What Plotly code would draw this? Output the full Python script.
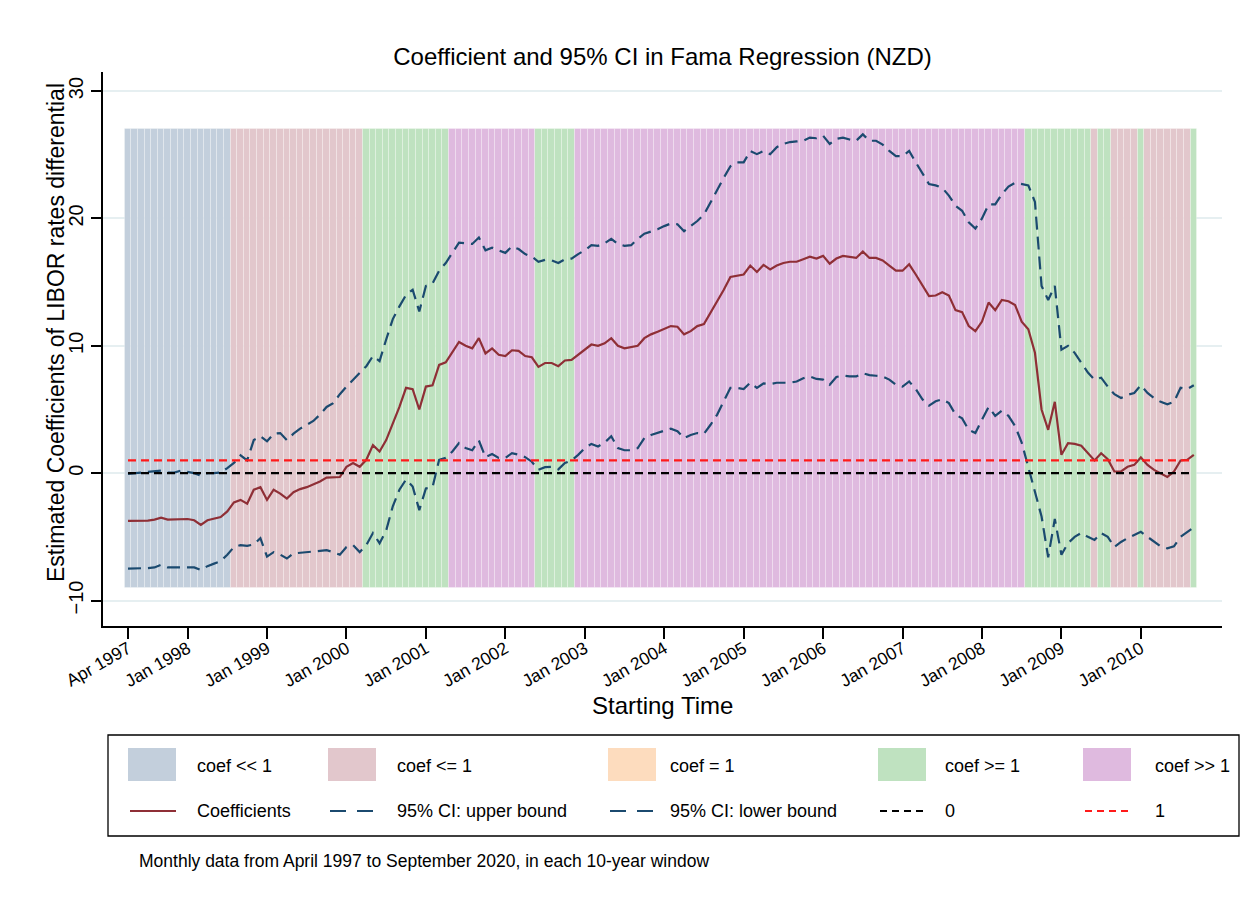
import plotly.graph_objects as go

# ---------------- data ----------------
TICK_LABELS = ["Apr 1997", "Jan 1998", "Jan 1999", "Jan 2000", "Jan 2001", "Jan 2002",
               "Jan 2003", "Jan 2004", "Jan 2005", "Jan 2006", "Jan 2007", "Jan 2008",
               "Jan 2009", "Jan 2010"]

COEF = [-3.75, -3.75, -3.7, -3.72, -3.65, -3.5, -3.65, -3.62, -3.6, -3.6, -3.7, -4.07, -3.7, -3.55, -3.45, -3.0,
        -2.3, -2.1, -2.4, -1.3, -1.1, -2.1, -1.3, -1.6, -2.0, -1.5, -1.25, -1.1, -0.9, -0.65, -0.35, -0.3,
        -0.3, 0.5, 0.8, 0.5, 1.05, 2.2, 1.7, 2.6, 3.9, 5.2, 6.7, 6.6, 5.0, 6.8, 6.9, 8.5,
        8.7, 9.45, 10.3, 10.0, 9.8, 10.6, 9.4, 9.8, 9.3, 9.2, 9.65, 9.6, 9.2, 9.1, 8.35, 8.65,
        8.65, 8.4, 8.85, 8.9, 9.3, 9.7, 10.1, 10.0, 10.2, 10.6, 10.0, 9.8, 9.9, 10.0, 10.6, 10.9,
        11.1, 11.3, 11.55, 11.5, 10.9, 11.15, 11.55, 11.7, 12.6, 13.4, 14.4, 15.4, 15.5, 15.6, 16.3, 15.8,
        16.35, 16.0, 16.3, 16.5, 16.6, 16.6, 16.8, 17.0, 16.85, 17.06, 16.45, 16.85, 17.06, 17.0, 16.9, 17.4,
        16.9, 16.9, 16.7, 16.3, 15.9, 15.9, 16.4, 15.6, 14.7, 13.9, 13.95, 14.2, 13.95, 12.8, 12.65, 11.55,
        11.15, 11.9, 13.4, 12.8, 13.6, 13.5, 13.2, 11.9, 11.3, 9.45, 5.0, 3.4, 5.6, 1.44, 2.36, 2.3,
        2.15, 1.57, 1.0, 1.57, 1.1, 0.13, 0.13, 0.5, 0.65, 1.23, 0.65, 0.26, -0.05, -0.3, 0.13, 1.0,
        1.05, 1.44]

CI_UPPER = [-0.05, 0.0, 0.0, 0.05, 0.1, 0.2, 0.05, 0.05, 0.2, 0.1, 0.0, -0.2, 0.0, 0.0, 0.05, 0.4,
            0.8, 1.4, 1.0, 2.6, 2.9, 2.5, 3.1, 3.15, 2.6, 3.1, 3.5, 3.8, 4.1, 4.6, 5.2, 5.5,
            6.2, 6.8, 7.35, 7.9, 8.4, 9.2, 8.8, 10.5, 12.1, 13.1, 14.0, 14.4, 12.7, 14.7, 14.9, 15.9,
            16.5, 17.3, 18.1, 18.05, 18.0, 18.5, 17.5, 17.7, 17.5, 17.3, 17.8, 17.6, 17.2, 17.0, 16.6, 16.75,
            16.7, 16.5, 16.8, 16.85, 17.2, 17.5, 17.9, 17.85, 18.05, 18.4, 18.0, 17.85, 17.9, 18.4, 18.8, 18.95,
            19.15, 19.4, 19.6, 19.55, 19.0, 19.4, 19.8, 20.3, 21.3, 22.3, 23.2, 24.1, 24.4, 24.4, 25.3, 25.05,
            25.3, 25.05, 25.6, 25.85, 26.0, 26.05, 26.1, 26.35, 26.3, 26.5, 25.85, 26.25, 26.35, 26.2, 26.1, 26.6,
            26.1, 26.1, 25.8, 25.3, 24.9, 24.9, 25.3, 24.4, 23.5, 22.7, 22.6, 22.4, 21.8, 21.0, 20.6, 19.7,
            19.2, 20.0, 21.1, 21.1, 21.9, 22.5, 22.8, 22.7, 22.6, 21.3, 14.7, 13.6, 14.7, 9.7, 10.0, 9.45,
            8.7, 7.9, 7.35, 7.5, 6.8, 6.2, 5.9, 6.15, 6.3, 6.9, 6.3, 5.9, 5.6, 5.4, 5.6, 6.7,
            6.6, 6.9]

CI_LOWER = [-7.5, -7.5, -7.45, -7.45, -7.4, -7.2, -7.4, -7.4, -7.35, -7.35, -7.4, -7.6, -7.3, -7.1, -6.9, -6.4,
            -5.8, -5.65, -5.7, -5.6, -5.1, -6.55, -6.2, -6.4, -6.7, -6.3, -6.25, -6.2, -6.1, -6.05, -6.05, -6.2,
            -6.4, -5.8, -5.65, -6.2, -5.65, -4.7, -5.5, -4.5, -2.6, -1.3, -0.5, -1.05, -2.9, -1.2, -1.1, 1.05,
            1.2, 1.7, 2.36, 1.97, 1.8, 2.57, 1.26, 1.5, 1.2, 1.2, 1.57, 1.45, 1.26, 0.9, 0.26, 0.47,
            0.5, 0.3, 0.8, 1.0, 1.44, 1.97, 2.3, 2.1, 2.4, 2.9, 1.97, 1.8, 1.8, 1.97, 2.75, 3.0,
            3.15, 3.3, 3.5, 3.3, 2.75, 3.0, 3.15, 3.1, 3.8, 4.6, 5.65, 6.7, 6.7, 6.6, 7.1, 6.7,
            7.05, 7.0, 7.1, 7.1, 7.1, 7.2, 7.45, 7.6, 7.4, 7.35, 6.95, 7.55, 7.66, 7.6, 7.6, 7.85,
            7.7, 7.65, 7.6, 7.35, 6.95, 6.8, 7.2, 6.6, 5.8, 5.3, 5.65, 5.8, 5.5, 4.6, 4.3, 3.4,
            3.15, 4.2, 5.2, 4.5, 4.9, 4.5, 3.7, 2.4, 0.5, -1.5, -3.4, -6.6, -3.6, -6.4, -5.5, -5.0,
            -4.7, -5.0, -5.25, -4.7, -5.0, -5.8, -5.4, -5.1, -4.85, -4.6, -5.0, -5.4, -5.75, -5.9, -5.75, -5.0,
            -4.6, -4.25]

# regime of each month as consecutive runs: (category, number of months)
REGIME_RUNS = [("coef << 1", 16), ("coef <= 1", 20), ("coef >= 1", 13), ("coef >> 1", 13),
               ("coef >= 1", 6), ("coef >> 1", 68), ("coef >= 1", 10), ("coef <= 1", 1),
               ("coef >= 1", 2), ("coef <= 1", 4), ("coef >= 1", 1), ("coef <= 1", 7),
               ("coef >= 1", 1)]
CATEGORIES = ["coef << 1", "coef <= 1", "coef = 1", "coef >= 1", "coef >> 1"]
BAND_LOW, BAND_HIGH = -9, 27
REF_ZERO, REF_ONE = 0, 1

# ---------------- styling ----------------
CAT_COLORS = {"coef << 1": "#c3cfdc", "coef <= 1": "#e2c7cc", "coef = 1": "#fddcbe",
              "coef >= 1": "#bfe2c0", "coef >> 1": "#dfbadf"}
COEF_COLOR = "#8f2f36"
CI_COLOR = "#1b4a6f"
FONT = "Liberation Sans, Arial, Helvetica, sans-serif"

OFF = 8  # page body margin in the browser
W, H = 1249 - OFF, 905 - OFF
# plot area, in reference-image pixels
L_REF, R_REF, T_REF, B_REF = 103, 1222, 72, 626
L, R, T, B = L_REF - OFF, R_REF - OFF, T_REF - OFF, B_REF - OFF

MONTHS = ["Jan", "Feb", "Mar", "Apr", "May", "Jun", "Jul", "Aug", "Sep", "Oct", "Nov", "Dec"]


def month_index(label):
    mon, yr = label.split()
    return (int(yr) - 1997) * 12 + MONTHS.index(mon) - 3


n = len(COEF)
x = list(range(n))
regimes = []
for cat, k in REGIME_RUNS:
    regimes += [cat] * k

fig = go.Figure()

# background regime bars
for cat in CATEGORIES:
    xs = [i for i in x if regimes[i] == cat]
    if not xs:
        continue
    fig.add_trace(go.Bar(
        x=xs, y=[BAND_HIGH - BAND_LOW] * len(xs), base=BAND_LOW, width=1.0,
        marker=dict(color=CAT_COLORS[cat], line=dict(color="rgba(255,255,255,0.25)", width=1)),
        showlegend=False, hoverinfo="skip"))

fig.add_trace(go.Scatter(x=x, y=COEF, mode="lines",
                         line=dict(color=COEF_COLOR, width=2.2), showlegend=False))
fig.add_trace(go.Scatter(x=x, y=CI_UPPER, mode="lines",
                         line=dict(color=CI_COLOR, width=2.2, dash="13px,7px"), showlegend=False))
fig.add_trace(go.Scatter(x=x, y=CI_LOWER, mode="lines",
                         line=dict(color=CI_COLOR, width=2.2, dash="13px,7px"), showlegend=False))
fig.add_trace(go.Scatter(x=x, y=[REF_ZERO] * n, mode="lines",
                         line=dict(color="black", width=2.2, dash="8px,5px"), showlegend=False))
fig.add_trace(go.Scatter(x=x, y=[REF_ONE] * n, mode="lines",
                         line=dict(color="#ff1a1a", width=2.2, dash="8px,5px"), showlegend=False))


# convert reference-image pixels to paper coordinates
def px_x(px):
    return (px - L_REF) / (R_REF - L_REF)


def px_y(py):
    return (B_REF - py) / (B_REF - T_REF)


shapes = []
annotations = []

# legend box
shapes.append(dict(type="rect", xref="paper", yref="paper",
                   x0=px_x(108), x1=px_x(1239), y0=px_y(836), y1=px_y(735),
                   line=dict(color="black", width=1.3), fillcolor="rgba(0,0,0,0)", layer="above"))

sq_x = [128, 328, 608, 878, 1083]
lab_x = [195, 395, 668, 943, 1153]
LEG_FONT = 18
for cat, sx, lx in zip(CATEGORIES, sq_x, lab_x):
    shapes.append(dict(type="rect", xref="paper", yref="paper",
                       x0=px_x(sx), x1=px_x(sx + 48), y0=px_y(781), y1=px_y(748),
                       line=dict(width=0), fillcolor=CAT_COLORS[cat], layer="above"))
    annotations.append(dict(x=px_x(lx), y=px_y(766), xref="paper", yref="paper",
                            text=cat, showarrow=False, xanchor="left", yanchor="middle",
                            font=dict(size=LEG_FONT, color="black", family=FONT)))

line_items = [("Coefficients", COEF_COLOR, "solid"),
              ("95% CI: upper bound", CI_COLOR, "dash"),
              ("95% CI: lower bound", CI_COLOR, "dash"),
              ("0", "black", "dot"),
              ("1", "#ff1a1a", "dot")]
for (lab, col, sty), sx, lx in zip(line_items, sq_x, lab_x):
    yy = px_y(811)
    dash = {"solid": "solid", "dash": "16px,11px", "dot": "7px,5px"}[sty]
    shapes.append(dict(type="line", xref="paper", yref="paper", x0=px_x(sx + 2), x1=px_x(sx + 48),
                       y0=yy, y1=yy, line=dict(color=col, width=2.2, dash=dash), layer="above"))
    annotations.append(dict(x=px_x(lx), y=px_y(811), xref="paper", yref="paper",
                            text=lab, showarrow=False, xanchor="left", yanchor="middle",
                            font=dict(size=LEG_FONT, color="black", family=FONT)))

# axis titles and note
annotations.append(dict(x=0.5, y=px_y(705), xref="paper", yref="paper", text="Starting Time",
                        showarrow=False, xanchor="center", yanchor="middle",
                        font=dict(size=24, color="black", family=FONT)))
annotations.append(dict(x=px_x(56), y=px_y(333), xref="paper", yref="paper",
                        text="Estimated Coefficients of LIBOR rates differential",
                        showarrow=False, textangle=-90, xanchor="center", yanchor="middle",
                        font=dict(size=23, color="black", family=FONT)))
annotations.append(dict(x=px_x(137), y=px_y(861), xref="paper", yref="paper",
                        text="Monthly data from April 1997 to September 2020, in each 10-year window",
                        showarrow=False, xanchor="left", yanchor="middle",
                        font=dict(size=17.5, color="black", family=FONT)))

px_per_month = 6.62
x0_idx = (L_REF - 128) / px_per_month
x1_idx = (R_REF - 128) / px_per_month

fig.update_layout(
    width=W, height=H,
    margin=dict(l=L, r=W - R, t=T, b=H - B, pad=0),
    paper_bgcolor="white", plot_bgcolor="white",
    barmode="overlay", bargap=0,
    font=dict(family=FONT, color="black"),
    title=dict(text="Coefficient and 95% CI in Fama Regression (NZD)",
               x=0.5, xref="paper", xanchor="center",
               y=1 - (57 - OFF) / H, yref="container", yanchor="middle",
               font=dict(size=24, color="black", family=FONT)),
    xaxis=dict(range=[x0_idx, x1_idx], tickvals=[month_index(t) for t in TICK_LABELS],
               ticktext=TICK_LABELS, tickangle=-30, ticks="outside", ticklen=11, tickwidth=1.5,
               tickcolor="black", showline=True, linecolor="black", linewidth=1.5,
               ticklabelstandoff=-7,
               showgrid=False, zeroline=False, tickfont=dict(size=17.5, family=FONT)),
    yaxis=dict(range=[-12.0, 31.5], tickvals=[-10, 0, 10, 20, 30], tickangle=-90,
               ticks="outside", ticklen=10, tickwidth=1.5, tickcolor="black",
               showline=True, linecolor="black", linewidth=1.5,
               showgrid=True, gridcolor="#e6eff1", gridwidth=1.5, zeroline=False,
               tickfont=dict(size=20, family=FONT)),
    shapes=shapes, annotations=annotations,
)

fig.write_html("out.html")
